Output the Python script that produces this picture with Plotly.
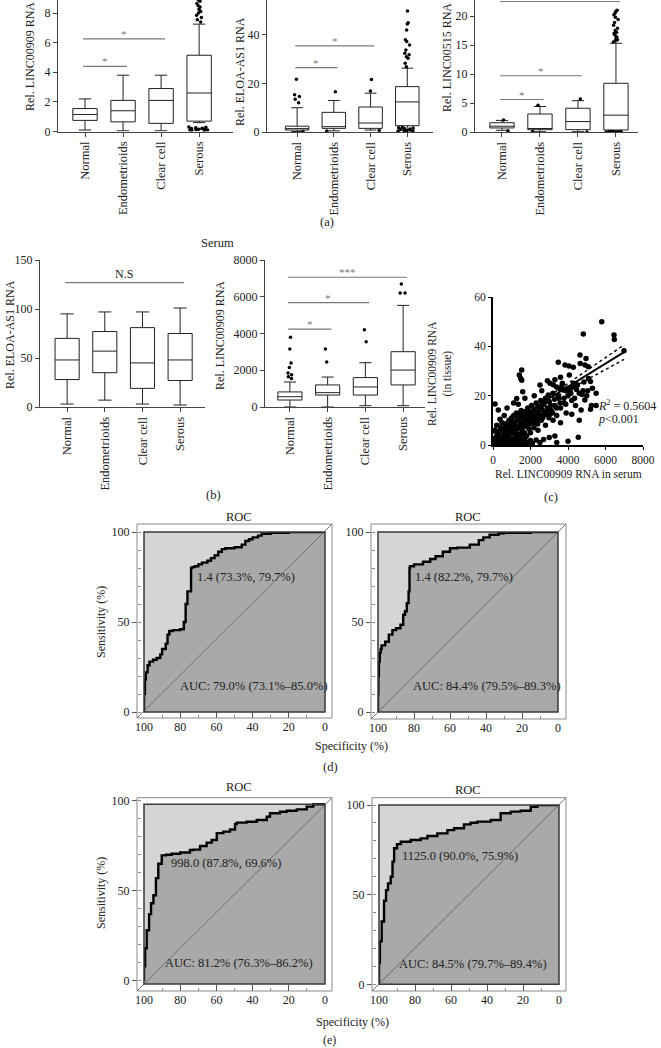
import numpy as np
import plotly.graph_objects as go

W, H = 661, 1048
FONT = "Liberation Serif"
TXT = "#222222"
AXC = "#444444"
SIGC = "#7a7a7a"
LIGHT = "#d5d5d5"
DARK = "#a9a9a9"

categories = ["Normal", "Endometrioids", "Clear cell", "Serous"]

# ---------------- (a) tissue ----------------
a1_lower = [0.1, 0.05, 0.05, 0.6]
a1_q1 = [0.75, 0.65, 0.55, 0.7]
a1_median = [1.15, 1.4, 2.1, 2.6]
a1_q3 = [1.55, 2.1, 2.9, 5.15]
a1_upper = [2.2, 3.8, 3.8, 7.25]
a1_out_high = {"Serous": [7.4, 7.55, 7.7, 7.85, 8.0, 8.1, 8.25, 8.4, 8.5, 8.65, 8.8, 8.9]}
a1_out_low = {"Serous": [0.05, 0.08, 0.1, 0.12, 0.15, 0.15, 0.18, 0.2, 0.22, 0.25, 0.28, 0.3, 0.1, 0.2]}
a1_sig = [(0, 1, 4.4, "*"), (0, 2, 6.25, "*")]

a2_lower = [0.2, 0.5, 0.8, 0.6]
a2_q1 = [0.8, 1.5, 1.5, 2.6]
a2_median = [1.4, 2.2, 3.7, 12.4]
a2_q3 = [2.4, 8.1, 10.3, 18.7]
a2_upper = [10.0, 13.0, 16.0, 26.3]
a2_out_high = {"Normal": [12.1, 13.5, 14.6, 15.3, 21.7], "Endometrioids": [16.6],
               "Clear cell": [16.9, 21.6],
               "Serous": [26.9, 28.3, 30.4, 31.0, 31.8, 32.5, 33.8, 35.9, 37.3, 38.0, 42.0, 44.5, 45.0, 49.9]}
a2_out_low = {"Normal": [0.2], "Endometrioids": [0.4], "Clear cell": [0.7],
              "Serous": [0.3, 0.5, 0.6, 0.8, 1.0, 1.2, 1.4, 1.6, 1.8, 2.0, 0.4, 0.9]}
a2_sig = [(0, 1, 26.5, "*"), (0, 2, 35.5, "*")]

a3_lower = [0.3, 0.05, 0.05, 0.0]
a3_q1 = [0.7, 0.4, 0.4, 0.35]
a3_median = [1.0, 0.6, 1.8, 2.9]
a3_q3 = [1.6, 3.1, 4.1, 8.4]
a3_upper = [2.0, 4.4, 5.4, 15.3]
a3_out_high = {"Normal": [2.05], "Endometrioids": [4.6], "Clear cell": [5.7],
               "Serous": [15.5, 15.7, 15.9, 16.1, 16.4, 16.7, 17.0, 17.2, 17.5, 17.9, 18.4,
                          18.9, 19.4, 19.8, 20.2, 20.5, 20.8, 21.0]}
a3_out_low = {"Normal": [0.2], "Endometrioids": [0.1], "Clear cell": [0.02],
              "Serous": [0.0, 0.02, 0.05, 0.0, 0.03, 0.06, 0.01, 0.04, 0.0, 0.02, 0.05, 0.08]}
a3_sig = [(0, 1, 5.6, "*"), (0, 2, 9.7, "*"), (0, 3, 22.5, "")]

# ---------------- (b) serum ----------------
b1_lower = [3, 7, 3, 2]
b1_q1 = [28, 35, 19, 27]
b1_median = [48, 57, 45, 48]
b1_q3 = [70, 77, 81, 75]
b1_upper = [95, 97, 97, 101]
b1_sig = [(0, 3, 127, "N.S")]

b2_lower = [0, 0, 70, 70]
b2_q1 = [380, 650, 650, 1200]
b2_median = [560, 780, 1090, 2010]
b2_q3 = [820, 1200, 1600, 3010]
b2_upper = [1360, 1630, 2410, 5530]
b2_out_high = {"Normal": [1550, 1650, 1750, 1850, 2150, 2400, 3150, 3800],
               "Endometrioids": [2450, 3150], "Clear cell": [3550, 4200],
               "Serous": [6200, 6200, 6700]}
b2_sig = [(0, 1, 4240, "*"), (0, 2, 5680, "*"), (0, 3, 7060, "***")]

# ---------------- (c) correlation ----------------
c_points = [
    (50, 0.5), (120, 1.0), (180, 0.3), (250, 1.5), (300, 0.8), (350, 2.0), (400, 0.5), (450, 1.2),
    (500, 3.0), (550, 0.4), (600, 1.8), (650, 0.7), (700, 2.5), (750, 0.3), (800, 1.1), (850, 3.5),
    (900, 0.6), (950, 2.2), (1000, 0.9), (1050, 1.6), (1100, 0.4), (1150, 2.8), (1200, 1.3), (1250, 0.5),
    (1300, 2.0), (1400, 0.8), (1450, 3.2), (1500, 1.5), (1600, 0.5), (1700, 2.5), (1800, 1.0), (1900, 0.3),
    (2000, 1.8), (2100, 0.6), (2300, 2.0), (2500, 1.0), (2700, 2.2), (3000, 3.0), (3300, 3.6), (3400, 1.0),
    (4000, 1.5), (4550, 3.1), (150, 3.0), (220, 4.2), (380, 3.5), (620, 4.5), (780, 4.0), (1020, 4.8),
    (1250, 4.1), (1550, 4.4), (90, 2.0), (30, 1.2), (280, 2.8), (470, 2.3),
    (200, 2), (320, 5), (420, 3), (520, 6), (580, 2.5), (680, 5), (720, 8), (820, 6), (880, 4.5),
    (960, 7), (1080, 5.5), (1180, 8), (1280, 6.5), (1320, 11), (1380, 4.5), (1480, 9), (1520, 7),
    (1620, 12), (1680, 5), (1720, 10), (1780, 8), (1880, 11.5), (1920, 6.5), (2020, 9.5), (2080, 12.5),
    (2180, 7), (2280, 10.5), (2380, 8.5), (2420, 13.5), (2520, 15.5), (2580, 10), (2680, 12), (2780, 17.5),
    (2880, 14), (2980, 11), (3080, 16), (3180, 13), (3280, 18.5), (3380, 15), (3480, 20), (3580, 17),
    (3680, 24), (3780, 19), (3880, 16.5), (3980, 23), (4150, 21), (4250, 23.5), (4350, 19), (4450, 22.5),
    (4750, 20.5), (4850, 25.5), (5050, 22), (5250, 16), (4650, 33),
    (100, 6), (200, 8), (300, 5.5), (400, 7), (480, 9), (550, 6.5), (650, 8.5), (700, 5.2), (800, 7.5),
    (850, 10), (900, 6), (950, 9), (1000, 11), (1050, 7), (1100, 12), (1150, 5.5), (1200, 9.5), (1250, 13),
    (1300, 7), (1350, 10.5), (1400, 12.5), (1450, 8), (1500, 14), (1550, 6), (1600, 11), (1650, 9),
    (1700, 13.5), (1750, 7.5), (1800, 12), (1850, 15), (1900, 10), (1950, 8.5), (2000, 13), (2050, 16),
    (2100, 11.5), (2150, 9), (2200, 14), (2250, 12), (2300, 17), (2350, 10), (2400, 15.5), (2450, 13),
    (2500, 12), (2550, 18), (2600, 14.5), (2650, 11), (2700, 16.5), (2750, 13.5), (2800, 19), (2850, 12.5),
    (2900, 15), (2950, 20.3), (3000, 17.5), (3100, 14), (3200, 21), (3300, 16), (3400, 12), (3500, 19),
    (3600, 15), (3700, 22.5), (3800, 17), (3900, 13), (4000, 20), (4100, 22), (4200, 18), (4300, 25),
    (4400, 16), (4500, 24.3), (4600, 21), (4700, 14.2), (4800, 22), (4900, 18.2), (5000, 20), (5100, 27),
    (5200, 25.7), (5300, 23), (5500, 21), (5200, 14.5),
    (3040, 25), (3213, 24.4), (3390, 23.5), (3570, 22.7), (3750, 22.3), (3920, 21.9), (4090, 21.6),
    (3483, 33.5), (3840, 32.4), (4053, 32), (4283, 31.5), (4070, 28.4), (4497, 24.3), (4640, 36.5),
    (4960, 35.1), (4907, 32.4), (5083, 31.7), (4817, 45), (5800, 50), (6453, 44.6), (6470, 42.8),
    (6987, 38.2), (1530, 30.4), (1403, 28.4), (1480, 27), (1530, 26.3), (1583, 21.6), (1263, 18.9),
    (2507, 24.3), (107, 16.6), (283, 14.2), (373, 10.4), (600, 12), (750, 15), (1100, 17), (1350, 16.5),
    (1700, 19), (2200, 20), (2600, 22), (2900, 26), (3300, 26.5), (3600, 27.5), (3700, 25), (2800, 8),
    (3200, 10), (3600, 9), (4200, 12.5), (4600, 10), (5500, 16), (3000, 12.2), (2400, 6), (2000, 5),
    (1800, 3.8),
]
c_serum = [p[0] for p in c_points]
c_tissue = [p[1] for p in c_points]
reg_slope = 0.0047
reg_intercept = 4.8
r2_text = "<i>R</i><sup>2</sup> = 0.5604"
p_text = "<i>p</i>&lt;0.001"

# ---------------- (d), (e) ROC ----------------
d1_spec = [100, 99.5, 99, 98, 97, 95, 93, 91, 90, 88, 87, 86, 84, 80, 78, 77, 76, 74, 73.5, 72,
           70, 68, 65, 63, 61, 59, 57, 55, 50, 46, 44, 42, 40, 37, 35, 30, 20, 5, 0]
d1_sens = [0, 10, 18, 22, 26, 28, 29, 30, 32, 35, 38, 43, 45, 45.5, 46, 50, 60, 67, 80, 80.5,
           81, 82, 83, 84, 85.5, 87, 89, 90.5, 91, 91.5, 93, 95, 96, 97, 98, 99, 99.5, 100, 100]
d2_spec = [100, 99.8, 99.5, 99, 98.5, 98, 96, 94, 92, 90, 87.5, 86, 85, 84, 83, 82.5, 82.2, 80, 75, 71,
           68, 64, 60, 56, 49, 44, 41.5, 38, 33, 30, 15, 0]
d2_sens = [0, 10, 20, 28, 33, 35, 37, 39, 43, 45.5, 46.5, 48.5, 54, 56, 60.5, 67, 80, 81, 82, 83.5,
           85, 86.5, 89, 91, 91.3, 93, 95.5, 97, 98.5, 99.3, 99.6, 100]
e1_spec = [100, 99.4, 98.5, 97.2, 96.1, 94.8, 93.4, 92.1, 90.2, 87.8, 84.7, 80, 74.6, 72.8, 69, 65.4,
           62.6, 59.8, 56.2, 52.5, 49.7, 48.8, 43.3, 37.7, 32.2, 30.4, 24.9, 21.2, 15.6, 10.1, 6.5, 0]
e1_sens = [0, 8, 18, 28, 37, 43, 47.5, 57, 65, 69.6, 70, 70.5, 71.2, 72.6, 72.8, 74.8,
           76.7, 78.2, 82, 82.8, 84, 87, 87.8, 88.3, 89.3, 91.1, 93, 93.9, 94.4, 95.2, 96.7, 98]
e2_spec = [100, 99.5, 98.5, 97.2, 96.1, 95, 93.5, 92.5, 91.6, 90, 87.9, 82.4, 76.8, 73.1, 67.6, 62,
           58.3, 52.8, 49.1, 45.4, 37.9, 32.4, 26.8, 21.3, 15.7, 12, 6.4, 0]
e2_sens = [0, 12, 24, 35, 46.6, 52.5, 56.3, 60, 68.4, 75.9, 78.2, 79.5, 80.5, 81.4, 82.7, 84.2,
           86, 87, 89.2, 90.1, 90.7, 91.6, 95.4, 96.3, 96.8, 99, 100, 100]
roc_cutoffs = ["1.4 (73.3%, 79.7%)", "1.4 (82.2%, 79.7%)", "998.0 (87.8%, 69.6%)", "1125.0 (90.0%, 75.9%)"]
roc_points = [(73.3, 79.7), (82.2, 79.7), (87.8, 69.6), (90.0, 75.9)]
roc_auc = ["AUC: 79.0% (73.1%–85.0%)", "AUC: 84.4% (79.5%–89.3%)",
           "AUC: 81.2% (76.3%–86.2%)", "AUC: 84.5% (79.7%–89.4%)"]

# ================= helpers =================
fig = go.Figure()
axes = {}
shapes = []
annos = []


def px_x(x):
    return x / W


def px_y(y):
    return 1 - y / H


def dom_x(a, b):
    return [a / W, b / W]


def dom_y(top, bottom):
    return [1 - bottom / H, 1 - top / H]


def refs(n):
    s = "" if n == 1 else str(n)
    return "x" + s, "y" + s, "xaxis" + s, "yaxis" + s


def add_text(s, x, y, size=12.5, angle=0, color=TXT, xanchor="center", yanchor="middle",
             xref="paper", yref="paper", xshift=0, yshift=0):
    if xref == "paper":
        x = px_x(x)
    if yref == "paper":
        y = px_y(y)
    annos.append(dict(text=s, x=x, y=y, xref=xref, yref=yref, showarrow=False, textangle=angle,
                      xanchor=xanchor, yanchor=yanchor, xshift=xshift, yshift=yshift,
                      font=dict(family=FONT, size=size, color=color)))


def add_box_panel(n, stats, out_high, out_low, xdom, xr, ydom, yr, dtick, sig, boxw=0.64, ww=0.5):
    xa, ya, xk, yk = refs(n)
    lo, q1, med, q3, hi = stats
    fig.add_trace(go.Box(x=categories, q1=q1, median=med, q3=q3, lowerfence=lo, upperfence=hi,
                         boxpoints=False, width=boxw, whiskerwidth=ww, fillcolor="white",
                         line=dict(color="#222222", width=1), xaxis=xa, yaxis=ya,
                         showlegend=False, hoverinfo="skip"))
    for outs, jit in ((out_high, 0.25), (out_low, 0.95)):
        if not outs:
            continue
        xs = [c for c, vals in outs.items() for _ in vals]
        ys = [v for vals in outs.values() for v in vals]
        fig.add_trace(go.Box(x=xs, y=ys, boxpoints="all", jitter=jit, pointpos=0, width=boxw,
                             fillcolor="rgba(0,0,0,0)", line=dict(width=0, color="rgba(0,0,0,0)"),
                             marker=dict(color="black", size=3.5), xaxis=xa, yaxis=ya,
                             showlegend=False, hoverinfo="skip"))
    axes[xk] = dict(domain=dom_x(*xdom), range=list(xr), type="category", categoryorder="array",
                    categoryarray=categories, anchor=ya, showline=True, linecolor=AXC, linewidth=1,
                    ticks="outside", ticklen=4, tickcolor=AXC, tickangle=-90,
                    tickfont=dict(family=FONT, size=12.5, color=TXT), showgrid=False, zeroline=False)
    axes[yk] = dict(domain=dom_y(*ydom), range=list(yr), anchor=xa, showline=True, linecolor=AXC,
                    linewidth=1, tick0=0, dtick=dtick, ticks="outside", ticklen=4, tickcolor=AXC,
                    tickfont=dict(family=FONT, size=12, color=TXT), showgrid=False, zeroline=False)
    for i, j, yv, lab in sig:
        shapes.append(dict(type="line", xref=xa, yref=ya, x0=i - 0.05, x1=j + 0.1, y0=yv, y1=yv,
                           line=dict(color=SIGC, width=1.2)))
        if lab:
            add_text(lab, (i + j) / 2 + 0.02, yv, size=11 if lab != "N.S" else 12,
                     color=SIGC if lab != "N.S" else TXT, xref=xa, yref=ya,
                     yshift=5 if lab != "N.S" else 9)


def add_roc(n, spec, sens, inner, outer, ydom, yr, op_point, op_label, auc_text, auc_xy, title_xy):
    xa, ya, xk, yk = refs(n)
    l, t, r, b = inner
    ol, ot, orr, ob = outer
    shapes.append(dict(type="rect", xref="paper", yref="paper", x0=px_x(l), x1=px_x(r),
                       y0=px_y(b), y1=px_y(t), fillcolor=LIGHT, line=dict(width=0), layer="below"))
    ybot = yr[0]
    fig.add_trace(go.Scatter(x=[100] + spec + [0, 100], y=[ybot] + sens + [ybot, ybot],
                             fill="toself", fillcolor=DARK, mode="lines",
                             line=dict(width=0, shape="vh"), xaxis=xa, yaxis=ya,
                             showlegend=False, hoverinfo="skip"))
    fig.add_trace(go.Scatter(x=spec, y=sens, mode="lines", line=dict(color="black", width=2.4, shape="vh"),
                             xaxis=xa, yaxis=ya, showlegend=False, hoverinfo="skip"))
    shapes.append(dict(type="rect", xref="paper", yref="paper", x0=px_x(ol), x1=px_x(orr),
                       y0=px_y(ob), y1=px_y(ot), line=dict(color="#8a8a8a", width=1)))
    shapes.append(dict(type="line", xref="paper", yref="paper", x0=px_x(ol), y0=px_y(ob),
                       x1=px_x(orr), y1=px_y(ot), line=dict(color="#6e6e6e", width=1), layer="above"))
    shapes.append(dict(type="rect", xref="paper", yref="paper", x0=px_x(l), x1=px_x(r),
                       y0=px_y(b), y1=px_y(t), line=dict(color="#3a3a3a", width=1.5), layer="above"))
    axes[xk] = dict(domain=dom_x(l, r), range=[100, 0], anchor="free", position=px_y(ob),
                    tickvals=[100, 80, 60, 40, 20, 0], ticks="inside", ticklen=6, tickcolor="#555555",
                    minor=dict(ticks="inside", ticklen=3, dtick=10, tick0=0, tickcolor="#888888"),
                    showline=False, showgrid=False, zeroline=False,
                    tickfont=dict(family=FONT, size=12, color=TXT))
    axes[yk] = dict(domain=dom_y(*ydom), range=list(yr), anchor="free", position=px_x(ol),
                    tickvals=[0, 50, 100], ticks="outside", ticklen=5, tickcolor="#555555",
                    minor=dict(ticks="inside", ticklen=3, dtick=10, tick0=0, tickcolor="#888888"),
                    showline=False, showgrid=False, zeroline=False,
                    tickfont=dict(family=FONT, size=12, color=TXT))
    add_text(op_label, op_point[0], op_point[1], size=12.5, xanchor="left", yanchor="top",
             xref=xa, yref=ya, xshift=3, yshift=1)
    add_text(auc_text, auc_xy[0], auc_xy[1], size=12.5)
    add_text("ROC", title_xy[0], title_xy[1], size=12.5)


# ================= (a) =================
add_box_panel(1, (a1_lower, a1_q1, a1_median, a1_q3, a1_upper), a1_out_high, a1_out_low,
              (58, 233), (-0.71, 3.89), (0, 131.5), (0, 8.88), 2, a1_sig)
add_box_panel(2, (a2_lower, a2_q1, a2_median, a2_q3, a2_upper), a2_out_high, a2_out_low,
              (267, 433), (-0.82, 3.70), (0, 132), (0, 54.4), 20, a2_sig)
add_box_panel(3, (a3_lower, a3_q1, a3_median, a3_q3, a3_upper), a3_out_high, a3_out_low,
              (475, 638), (-0.71, 3.58), (0, 132), (0, 22.76), 5, a3_sig)
add_text("Rel. LINC00909 RNA", 30, 57, size=12, angle=-90)
add_text("Rel. ELOA-AS1 RNA", 240, 72, size=12, angle=-90)
add_text("Rel. LINC00515 RNA", 447, 57, size=12, angle=-90)
add_text("(a)", 327, 222, size=12.5)

# ================= (b) =================
add_box_panel(4, (b1_lower, b1_q1, b1_median, b1_q3, b1_upper), None, None,
              (40, 205), (-0.72, 3.66), (260, 407), (0, 150), 50, b1_sig, ww=0.55)
add_box_panel(5, (b2_lower, b2_q1, b2_median, b2_q3, b2_upper), b2_out_high, None,
              (265, 425), (-0.66, 3.58), (260, 407), (0, 8000), 2000, b2_sig)
add_text("Rel. ELOA-AS1 RNA", 10, 335, size=12, angle=-90)
add_text("Rel. LINC00909 RNA", 220, 335, size=12, angle=-90)
add_text("Serum", 217, 243, size=12.5)
add_text("(b)", 213, 495, size=12.5)

# ================= (c) =================
cx = np.array(c_serum, dtype=float)
cy = np.array(c_tissue, dtype=float)
nc = len(cx)
xbar = cx.mean()
resid = cy - (reg_intercept + reg_slope * cx)
s_res = np.sqrt(np.sum(resid ** 2) / (nc - 2))
sxx = np.sum((cx - xbar) ** 2)
xs = np.linspace(0, cx.max(), 80)
fit = reg_intercept + reg_slope * xs
half = 1.97 * s_res * np.sqrt(1 / nc + (xs - xbar) ** 2 / sxx)

fig.add_trace(go.Scatter(x=c_serum, y=c_tissue, mode="markers", marker=dict(color="black", size=5.5),
                         xaxis="x6", yaxis="y6", cliponaxis=False, showlegend=False, hoverinfo="skip"))
fig.add_trace(go.Scatter(x=xs, y=fit, mode="lines", line=dict(color="black", width=2),
                         xaxis="x6", yaxis="y6", showlegend=False, hoverinfo="skip"))
for sign in (1, -1):
    fig.add_trace(go.Scatter(x=xs, y=fit + sign * half, mode="lines",
                             line=dict(color="black", width=1.4, dash="dot"),
                             xaxis="x6", yaxis="y6", showlegend=False, hoverinfo="skip"))
axes["xaxis6"] = dict(domain=dom_x(493, 643), range=[0, 8000], anchor="y6", dtick=2000, tick0=0,
                      showline=True, linecolor="black", linewidth=2, ticks="outside", ticklen=3,
                      tickcolor="black", showgrid=False, zeroline=False,
                      tickfont=dict(family=FONT, size=11.5, color=TXT))
axes["yaxis6"] = dict(domain=dom_y(297, 445), range=[0, 60], anchor="x6", dtick=20, tick0=0,
                      showline=True, linecolor="black", linewidth=2, ticks="outside", ticklen=3,
                      tickcolor="black", showgrid=False, zeroline=False,
                      tickfont=dict(family=FONT, size=11.5, color=TXT))
add_text("Rel. LINC00909 RNA in serum", 568, 474, size=11.5)
add_text("Rel. LINC00909 RNA<br>(in tissue)", 440, 373, size=11.5, angle=-90)
add_text(r2_text, 596, 405, size=12, xanchor="left")
add_text(p_text, 596, 419, size=12, xanchor="left")
add_text("(c)", 551, 497, size=12.5)

# ================= (d), (e) =================
add_roc(7, d1_spec, d1_sens, (144, 532, 325, 712), (137, 524, 332, 718), (532, 712), (0, 100),
        roc_points[0], roc_cutoffs[0], roc_auc[0], (254, 686), (239, 517))
add_roc(8, d2_spec, d2_sens, (378, 532, 558, 712), (371, 524, 566, 719), (532, 712), (0, 100),
        roc_points[1], roc_cutoffs[1], roc_auc[1], (487, 686), (468, 517))
add_roc(9, e1_spec, e1_sens, (144, 804.3, 325, 984), (137, 797.7, 332, 991), (800.7, 984), (-1.83, 100),
        roc_points[2], roc_cutoffs[2], roc_auc[2], (239, 963), (239, 787))
add_roc(10, e2_spec, e2_sens, (379, 805, 559, 984.3), (372, 797.7, 566, 991), (805, 984.3), (0, 100),
        roc_points[3], roc_cutoffs[3], roc_auc[3], (473, 964), (468, 790))
add_text("Sensitivity (%)", 101, 622, size=12, angle=-90)
add_text("Sensitivity (%)", 101, 893, size=12, angle=-90)
add_text("Specificity (%)", 351, 746, size=12)
add_text("Specificity (%)", 352, 1022, size=12)
add_text("(d)", 330, 767, size=12.5)
add_text("(e)", 329, 1040, size=12)

fig.update_layout(width=W, height=H, autosize=False, margin=dict(l=0, r=0, t=0, b=0),
                  paper_bgcolor="white", plot_bgcolor="rgba(0,0,0,0)", template="none",
                  boxmode="overlay", showlegend=False, shapes=shapes, annotations=annos,
                  font=dict(family=FONT, color=TXT), **axes)
fig.write_html("out.html", config={"displayModeBar": False},
               post_script="document.body.style.margin='0';document.body.style.padding='0';"
                           "document.body.style.overflow='hidden';")
